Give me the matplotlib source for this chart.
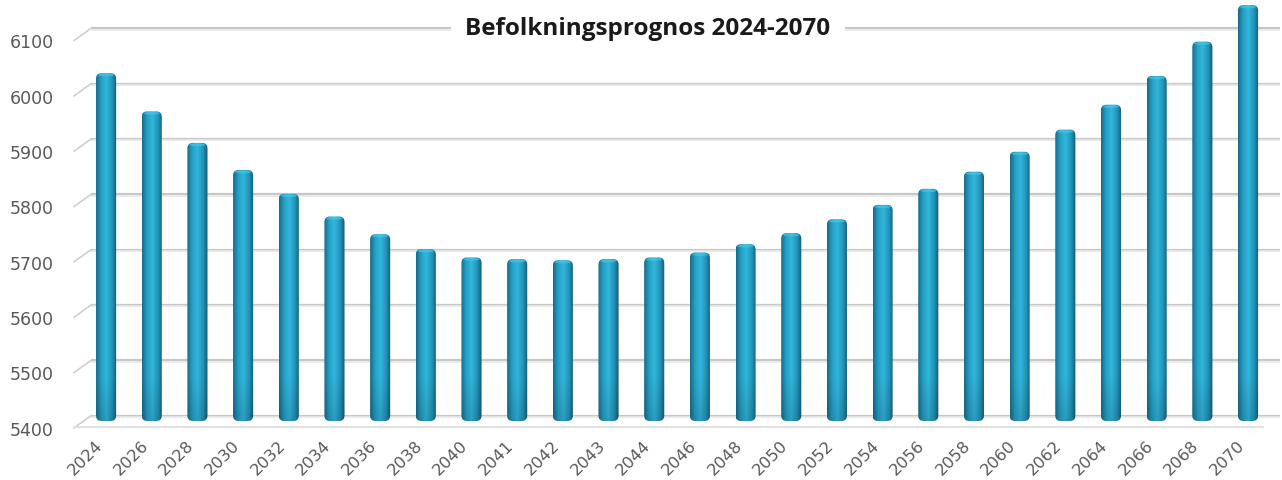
import numpy as np
import matplotlib
matplotlib.use("Agg")
import matplotlib.pyplot as plt
import matplotlib.patches as mpatches
from matplotlib.transforms import ScaledTranslation

# ---- data ----
years = ["2024", "2026", "2028", "2030", "2032", "2034", "2036", "2038", "2040",
         "2041", "2042", "2043", "2044", "2046", "2048", "2050", "2052", "2054",
         "2056", "2058", "2060", "2062", "2064", "2066", "2068", "2070"]
population = [6019, 5950, 5893, 5844, 5801, 5760, 5728, 5701, 5686,
              5683, 5681, 5683, 5686, 5695, 5710, 5730, 5755, 5781,
              5810, 5841, 5877, 5917, 5962, 6014, 6076, 6142]
yticks = [5400, 5500, 5600, 5700, 5800, 5900, 6000, 6100]
title = "Befolkningsprognos 2024-2070"

W, H, DPI = 12.82, 4.81, 100
fig = plt.figure(figsize=(W, H), dpi=DPI)
fig.patch.set_facecolor("white")
left_px, right_px, top_px, bot_px = 91, 1280, 0, 422
ax = fig.add_axes([left_px / 1282, 1 - bot_px / 481,
                   (right_px - left_px) / 1282, (bot_px - top_px) / 481])
ax.set_facecolor("none")

Y0, Y1 = 5390.4, 6153
XL, XR = -0.33, 25.7
ax.set_xlim(XL, XR)
ax.set_ylim(Y0, Y1)
for s in ax.spines.values():
    s.set_visible(False)

x = np.arange(len(years))
ax.set_yticks(yticks)
ax.set_yticklabels([str(t) for t in yticks], fontsize=12.5, color="#595959",
                   family=["DejaVu Sans"])
ax.tick_params(axis="y", length=0, pad=27)
for lab in ax.get_yticklabels():
    lab.set_transform(lab.get_transform() + ScaledTranslation(0, -12 / DPI, fig.dpi_scale_trans))

ax.set_xticks(x)
ax.set_xticklabels(years, rotation=45, ha="right", va="center", rotation_mode="anchor",
                   fontsize=11.8, color="#595959", family=["DejaVu Sans"])
ax.tick_params(axis="x", length=0, pad=15.5)
for lab in ax.get_xticklabels():
    lab.set_transform(lab.get_transform() + ScaledTranslation(-6 / DPI, 0, fig.dpi_scale_trans))

# gridlines (back wall)
for t in yticks:
    ax.axhline(t, color="#c8c8c8", lw=1.6, zorder=0)
    ax.axhline(t - 2.2, color="#e8e8e8", lw=1.2, zorder=0)
    ax.plot([XL - 0.37, XL], [t - 22, t], color="#d0d0d0", lw=1.2, clip_on=False, zorder=0)
# floor front edge
ax.plot([XL - 0.37, XR - 0.37], [Y0 - 10, Y0 - 10], color="#e0e0e0", lw=1.5, clip_on=False, zorder=0)

# gradient for cylinder look
nx, ny = 64, 256
u = np.linspace(0, 1, nx)
stops = [0.0, 0.25, 0.5, 0.78, 1.0]
cols = np.array([[0x16, 0x6c, 0x88], [0x27, 0xa0, 0xc6], [0x33, 0xb6, 0xdc],
                 [0x22, 0x93, 0xb8], [0x12, 0x58, 0x70]]) / 255.0
row = np.stack([np.interp(u, stops, cols[:, k]) for k in range(3)], axis=1)

bw = 0.44
bars = ax.bar(x, np.array(population) - Y0, bottom=Y0, width=bw,
              color="#2aa7cc", edgecolor="none", zorder=2)

xu_px = (right_px - left_px) / (XR - XL)
yu_px = (bot_px - top_px) / (Y1 - Y0)
aspect = xu_px / yu_px
for b in bars:
    bx, by, w, h = b.get_x(), b.get_y(), b.get_width(), b.get_height()
    hp = h * yu_px
    v = np.linspace(0, 1, ny) * hp  # pixels from bottom
    shade = 1.0 - 0.13 * np.clip(1 - v / 45.0, 0, 1)
    img = np.clip(row[None, :, :] * shade[:, None, None], 0, 1)
    clip = mpatches.FancyBboxPatch((bx, by), w, h,
                                   boxstyle="round,pad=0,rounding_size=0.12",
                                   mutation_aspect=aspect, transform=ax.transData,
                                   facecolor="none", edgecolor="none")
    ax.add_patch(clip)
    im = ax.imshow(img, extent=(bx, bx + w, by, by + h), origin="lower",
                   aspect="auto", zorder=3, interpolation="bilinear")
    im.set_clip_path(clip)
    b.set_visible(False)
    cap = mpatches.Ellipse((bx + w / 2, by + h - 3.5), w * 0.8, 5,
                           facecolor="#45c6e6", edgecolor="none", zorder=4, alpha=0.7)
    ax.add_patch(cap)

ax.set_xlim(XL, XR)
ax.set_ylim(Y0, Y1)

fig.text(648 / 1282, 1 - 29 / 481, title, ha="center", va="center",
         fontsize=17.5, fontweight="bold", color="#1a1a1a",
         family=["Open Sans", "DejaVu Sans"],
         bbox=dict(boxstyle="square,pad=0.6", facecolor="white", edgecolor="none"),
         zorder=10)

fig.savefig("out.png", dpi=DPI, facecolor="white")
